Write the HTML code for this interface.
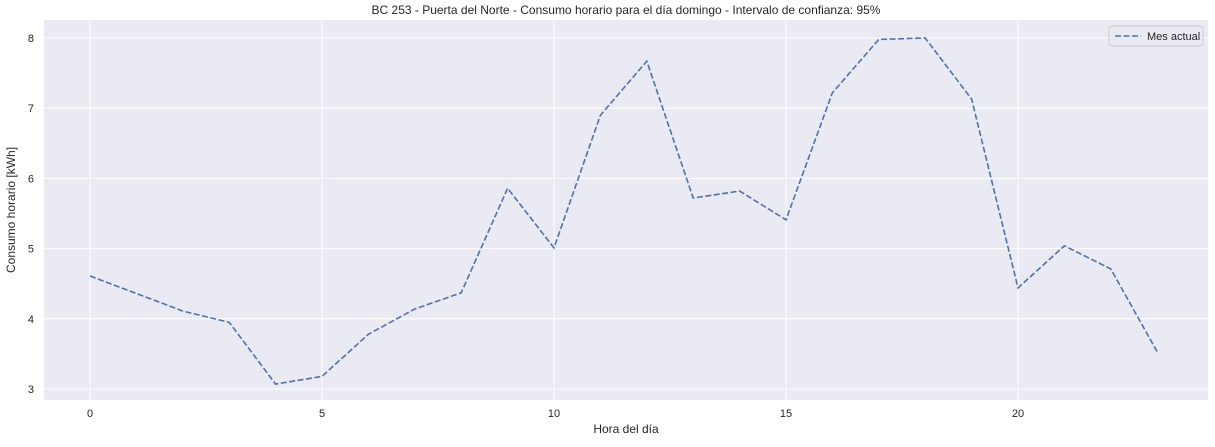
<!DOCTYPE html>
<html><head><meta charset="utf-8">
<style>
body{margin:0;background:#fff;font-family:"Liberation Sans",sans-serif;}
svg text{font-family:"Liberation Sans",sans-serif;fill:#262626;}
</style></head>
<body>
<svg id="chart" width="1215" height="442" xmlns="http://www.w3.org/2000/svg">
<rect x="44" y="20" width="1164" height="380" fill="#eaeaf2"/>
<g id="grid"></g>
<g id="ticks"></g>
<path id="line" fill="none" stroke="#4c72b0" stroke-width="1.6" stroke-dasharray="6,2.5"/>
<text x="626" y="14" font-size="12" text-anchor="middle">BC 253 - Puerta del Norte - Consumo horario para el día domingo - Intervalo de confianza: 95%</text>
<text x="626" y="433" font-size="12" text-anchor="middle">Hora del día</text>
<text transform="translate(15,210) rotate(-90)" font-size="12" text-anchor="middle">Consumo horario [kWh]</text>
<g>
<rect x="1109" y="26" width="94" height="20" rx="3" fill="#eaeaf2" stroke="#cccccc"/>
<line x1="1115" y1="36" x2="1141" y2="36" stroke="#4c72b0" stroke-width="1.6" stroke-dasharray="6,2.5"/>
<text x="1147" y="40" font-size="11">Mes actual</text>
</g>
</svg>
<script>
const hours=[0,1,2,3,4,5,6,7,8,9,10,11,12,13,14,15,16,17,18,19,20,21,22,23];
const consumo=[4.61,4.36,4.11,3.95,3.07,3.18,3.78,4.14,4.37,5.86,5.01,6.90,7.67,5.72,5.82,5.41,7.22,7.98,8.00,7.13,4.44,5.04,4.71,3.53];
const xTicks=[0,5,10,15,20];
const yTicks=[3,4,5,6,7,8];
const X=v=>90+v*46.4;
const Y=v=>389-(v-3)*70.2;
const ns="http://www.w3.org/2000/svg";
const grid=document.getElementById('grid'),ticks=document.getElementById('ticks');
xTicks.forEach(t=>{
 const l=document.createElementNS(ns,'line');
 
 
 l.setAttribute('x1',X(t));l.setAttribute('x2',X(t));l.setAttribute('y1',20);l.setAttribute('y2',400);
 l.setAttribute('stroke','#fff');l.setAttribute('stroke-width','1');grid.appendChild(l);
 const tx=document.createElementNS(ns,'text');
 
 
 tx.setAttribute('x',X(t));tx.setAttribute('y',417);tx.setAttribute('font-size','11');tx.setAttribute('text-anchor','middle');
 tx.textContent=t;ticks.appendChild(tx);
});
yTicks.forEach(t=>{
 const l=document.createElementNS(ns,'line');
 
 
 l.setAttribute('x1',44);l.setAttribute('x2',1208);l.setAttribute('y1',Y(t));l.setAttribute('y2',Y(t));
 l.setAttribute('stroke','#fff');l.setAttribute('stroke-width','1');grid.appendChild(l);
 const tx=document.createElementNS(ns,'text');
 
 
 tx.setAttribute('x',34);tx.setAttribute('y',Y(t)+4);tx.setAttribute('font-size','11');tx.setAttribute('text-anchor','end');
 tx.textContent=t;ticks.appendChild(tx);
});
document.getElementById('line').setAttribute('d',hours.map((h,i)=>(i?'L':'M')+X(h)+','+Y(consumo[i])).join(' '));
</script>
</body></html>
